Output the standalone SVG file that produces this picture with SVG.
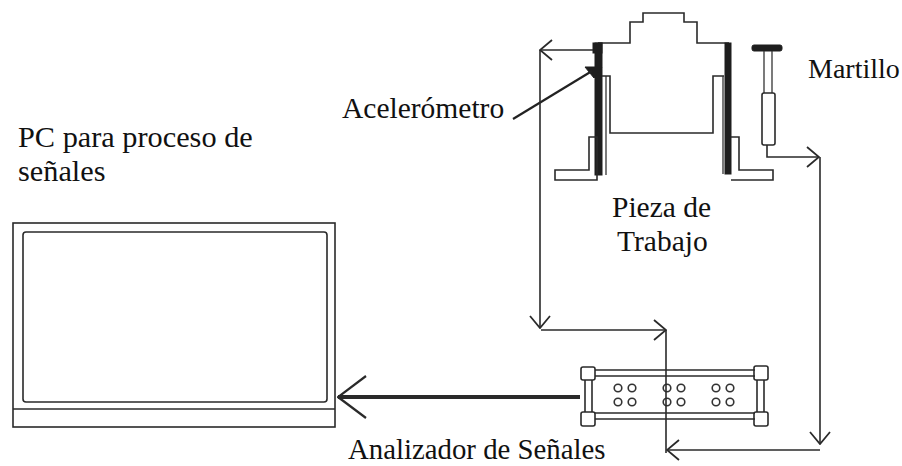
<svg xmlns="http://www.w3.org/2000/svg" width="902" height="466" viewBox="0 0 902 466">
  <style>
    .ln { fill: none; stroke: #2a2a2a; stroke-width: 1.6; stroke-linejoin: miter; }
    .thin { fill: none; stroke: #333; stroke-width: 1.3; }
    .dark { fill: #1e1e1e; stroke: #1e1e1e; stroke-width: 1; }
    .lbl { font-family: "Liberation Serif", "Times New Roman", serif; font-size: 29.5px; fill: #111; }
    .knob { fill: #fff; stroke: #333; stroke-width: 1.6; }
  </style>
  <defs>
    <marker id="chev" viewBox="0 0 14 22" refX="13" refY="11" markerWidth="14" markerHeight="22" markerUnits="userSpaceOnUse" orient="auto">
      <path d="M1,1 L13,11 L1,21" fill="none" stroke="#2a2a2a" stroke-width="1.8"/>
    </marker>
    <marker id="chevBig" viewBox="0 0 30 44" refX="29" refY="22" markerWidth="30" markerHeight="44" markerUnits="userSpaceOnUse" orient="auto">
      <path d="M1,1 L29,22 L1,43" fill="none" stroke="#2a2a2a" stroke-width="2.2"/>
    </marker>
  </defs>
  <rect width="902" height="466" fill="#fff"/>

  <!-- PC -->
  <g id="pc">
    <rect x="13" y="223" width="322" height="204" class="ln" stroke-width="2"/>
    <rect x="23" y="232" width="304" height="170" rx="3" class="ln" stroke-width="2"/>
    <line x1="13" y1="409" x2="335" y2="409" class="ln" stroke-width="2.6"/>
    <text x="18" y="147" class="lbl" style="font-size:30.3px">PC para proceso de</text>
    <text x="18" y="181" class="lbl" style="font-size:30.3px">señales</text>
  </g>

  <!-- Workpiece -->
  <g id="pieza">
    <path class="ln" d="M598,43 H630 V22 H643 V13 H684 V22 H697 V43 H729"/>
    <rect x="595" y="43" width="7" height="132" class="dark"/>
    <line x1="606" y1="76" x2="606" y2="175" class="thin"/>
    <path class="ln" d="M602,76 H610 V133 H713 V76 H724"/>
    <rect x="725" y="43" width="6" height="131" class="dark"/>
    <line x1="723" y1="76" x2="723" y2="174" class="thin"/>
    <path class="ln" d="M555,170 H589 V137 H597 V180 H555 Z"/>
    <path class="ln" d="M731,137 H739 V170 H773 V180 H731"/>
    <text x="612" y="217" class="lbl">Pieza de</text>
    <text x="617" y="251" class="lbl">Trabajo</text>
  </g>

  <!-- Accelerometer -->
  <g id="acelerometro">
    <rect x="593" y="43" width="9" height="10" class="dark"/>
    <path d="M585,67 L602,67 L594,78 Z" class="dark"/>
    <line x1="513" y1="119" x2="592" y2="71" stroke="#222" stroke-width="2.2"/>
    <text x="342" y="118" class="lbl">Acelerómetro</text>
  </g>

  <!-- Hammer -->
  <g id="martillo">
    <rect x="752" y="45" width="30" height="6" rx="2" class="dark" fill="#555"/>
    <line x1="764" y1="51" x2="764" y2="93" class="thin"/>
    <line x1="772" y1="51" x2="772" y2="93" class="thin"/>
    <rect x="762" y="93" width="13" height="52" rx="2" class="ln"/>
    <text x="808" y="78" class="lbl" style="font-size:28px">Martillo</text>
  </g>

  <!-- Signal analyzer -->
  <g id="analizador">
    <line x1="595" y1="370" x2="755" y2="370" class="ln"/>
    <line x1="595" y1="376" x2="755" y2="376" class="ln"/>
    <line x1="595" y1="413" x2="755" y2="413" class="ln"/>
    <line x1="595" y1="419" x2="755" y2="419" class="ln"/>
    <line x1="585" y1="380" x2="585" y2="412" class="ln"/>
    <line x1="592" y1="380" x2="592" y2="412" class="ln"/>
    <line x1="757" y1="380" x2="757" y2="412" class="ln"/>
    <line x1="764" y1="380" x2="764" y2="412" class="ln"/>
    <rect x="581" y="367" width="14" height="13" rx="2" class="ln" stroke-width="2"/>
    <rect x="581" y="412" width="14" height="14" rx="2" class="ln" stroke-width="2"/>
    <rect x="754" y="366" width="14" height="14" rx="2" class="ln" stroke-width="2"/>
    <rect x="754" y="412" width="14" height="14" rx="2" class="ln" stroke-width="2"/>
    <circle cx="618" cy="388" r="3.8" class="knob"/>
    <circle cx="632" cy="388" r="3.8" class="knob"/>
    <circle cx="618" cy="402" r="3.8" class="knob"/>
    <circle cx="632" cy="402" r="3.8" class="knob"/>
    <circle cx="667" cy="388" r="3.8" class="knob"/>
    <circle cx="681" cy="388" r="3.8" class="knob"/>
    <circle cx="667" cy="402" r="3.8" class="knob"/>
    <circle cx="681" cy="402" r="3.8" class="knob"/>
    <circle cx="716" cy="388" r="3.8" class="knob"/>
    <circle cx="730" cy="388" r="3.8" class="knob"/>
    <circle cx="716" cy="402" r="3.8" class="knob"/>
    <circle cx="730" cy="402" r="3.8" class="knob"/>
    <text x="348" y="459" class="lbl" style="font-size:28.8px">Analizador de Señales</text>
  </g>

  <!-- Connectors -->
  <g id="conectores">
    <line x1="593" y1="50" x2="540" y2="50" class="ln" marker-end="url(#chev)"/>
    <line x1="540" y1="50" x2="540" y2="328" class="ln" marker-end="url(#chev)"/>
    <line x1="541" y1="330" x2="666" y2="330" class="ln" marker-end="url(#chev)"/>
    <line x1="666" y1="330" x2="666" y2="453" class="ln"/>
    <path d="M767,145 V157 H819" class="ln" marker-end="url(#chev)"/>
    <line x1="820" y1="157" x2="820" y2="444" class="ln" marker-end="url(#chev)"/>
    <line x1="820" y1="450" x2="667" y2="450" class="ln" marker-end="url(#chev)"/>
    <line x1="580" y1="397" x2="338" y2="397" stroke="#2a2a2a" stroke-width="4" marker-end="url(#chevBig)"/>
  </g>
</svg>
